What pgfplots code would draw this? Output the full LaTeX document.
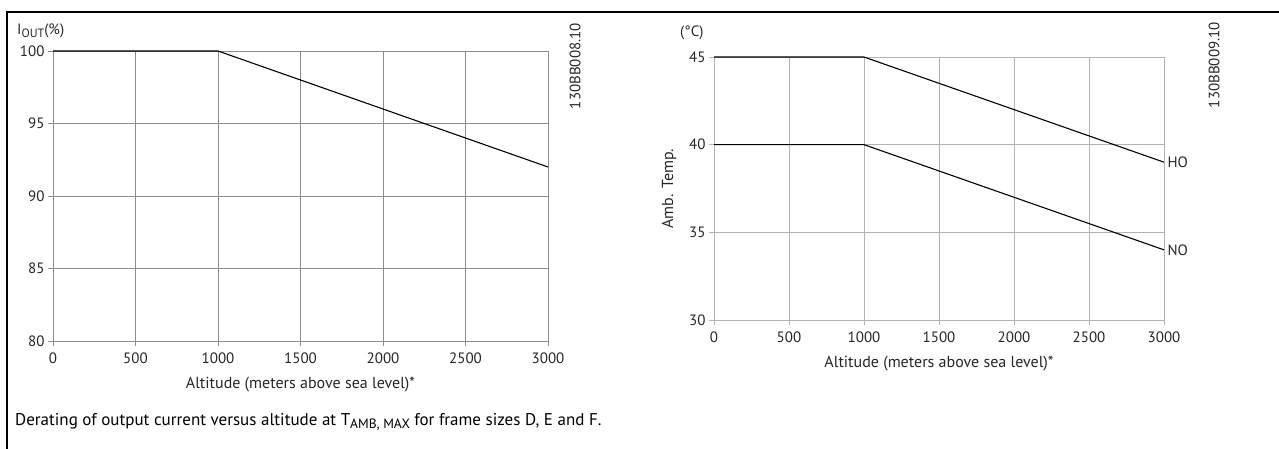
\documentclass[border=0pt]{standalone}
\usepackage{fontspec}
\setmainfont{PT Sans}
\usepackage{pgfplots}
\pgfplotsset{compat=1.18}
\newcommand\fs{\fontsize{15}{15}\selectfont}
\pgfplotsset{myax/.style={scale only axis, axis lines=left, axis line style={-,draw=#1,line width=0.9pt},
  grid=major, grid style={draw=#1, line width=0.9pt}, tick style={draw=#1, line width=0.9pt},
  tick align=outside, major tick length=5pt, xmin=0, xmax=3000, xtick={0,500,...,3000},
  ticklabel style={font=\fs, text=black!85},
  xticklabel style={yshift=-3pt},
  /pgf/number format/assume math mode=true, /pgf/number format/set thousands separator={},
  xlabel style={font=\fontsize{16}{16}\selectfont, text=black!85, yshift=-7pt},
  ylabel style={font=\fontsize{16}{16}\selectfont, text=black!85, yshift=6pt},
  clip=false, anchor=south west}}
\begin{document}
\begin{tikzpicture}[x=1pt,y=1pt]
\useasboundingbox (0,0) rectangle (1279,-449);
\draw[line width=1.4pt] (7,-449) -- (7,-12) -- (1279,-12);
% left chart
\begin{axis}[myax=black!45, at={(53pt,-341pt)}, width=495pt, height=290pt,
  ymin=80, ymax=100, ytick={80,85,...,100},
  xlabel={Altitude (meters above sea level)*}]
\addplot[black, line width=1.1pt] coordinates {(0,100) (1000,100) (3000,92)};
\end{axis}
\node[anchor=west, font=\fs, text=black!85, inner sep=0pt] at (17,-31) {I\raisebox{-0.35ex}{\fontsize{12}{12}\selectfont OUT}(\%)};
\node[rotate=90, font=\fs, text=black!85, inner sep=0pt] at (575,-66) {130BB008.10};
% right chart
\begin{axis}[myax=black!30, at={(714pt,-320pt)}, width=450pt, height=263pt,
  ymin=30, ymax=45, ytick={30,35,...,45},
  xlabel={Altitude (meters above sea level)*}, ylabel={Amb. Temp.}]
\addplot[black, line width=1.1pt] coordinates {(0,45) (1000,45) (3000,39)};
\addplot[black, line width=1.1pt] coordinates {(0,40) (1000,40) (3000,34)};
\node[anchor=west, font=\fs, text=black!85] at (axis cs:3000,39) {HO};
\node[anchor=west, font=\fs, text=black!85] at (axis cs:3000,34) {NO};
\end{axis}
\node[anchor=west, font=\fs, text=black!85, inner sep=0pt] at (680,-33) {(°C)};
\node[rotate=90, font=\fs, text=black!85, inner sep=0pt] at (1214,-65) {130BB009.10};
% caption
\node[anchor=west, font=\fontsize{17}{17}\selectfont, inner sep=0pt] at (15,-422) {Derating of output current versus altitude at T\raisebox{-0.35ex}{\fontsize{13.5}{13.5}\selectfont AMB, MAX} for frame sizes D, E and F.};
\end{tikzpicture}
\end{document}
